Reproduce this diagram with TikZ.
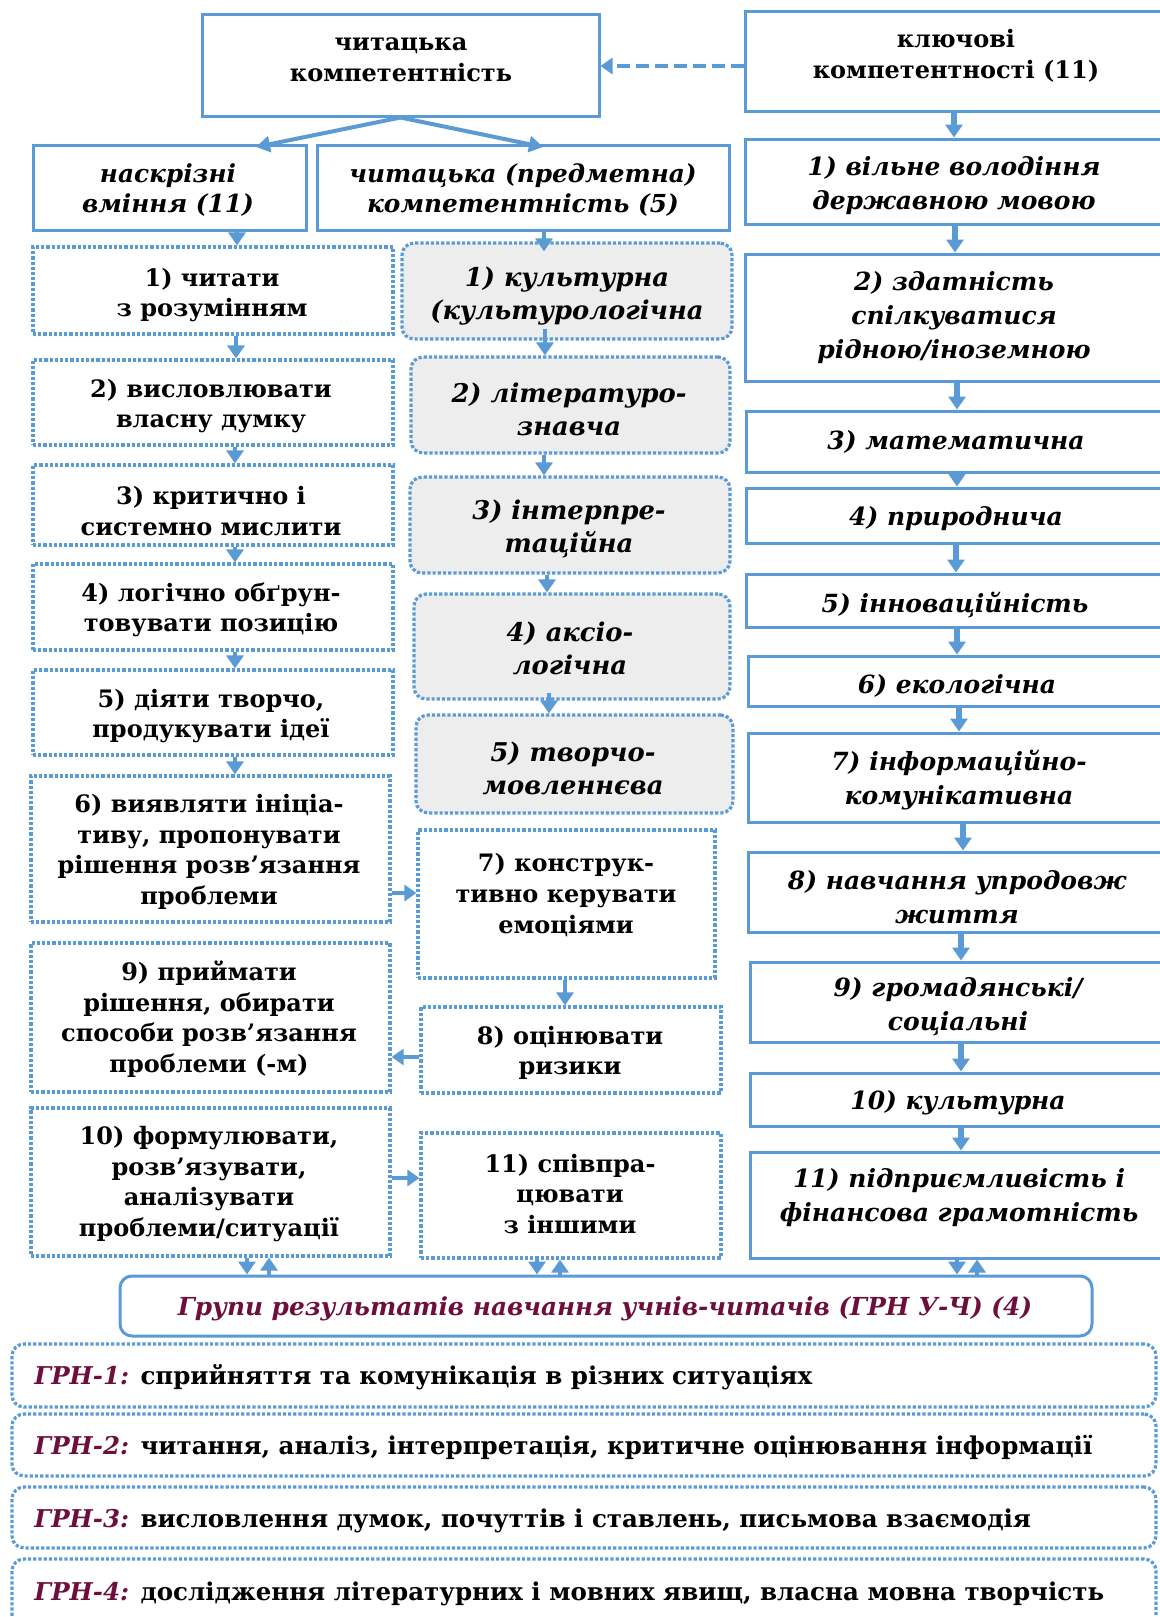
\documentclass[tikz,border=0pt]{standalone}
\usepackage{fontspec}
\setmainfont{DejaVu Serif}
\usetikzlibrary{arrows.meta,fit,calc}
\definecolor{bl}{RGB}{91,155,213}
\definecolor{gr}{RGB}{237,237,237}
\definecolor{mr}{RGB}{110,14,60}
\tikzset{
  sbox/.style={draw=bl, line width=1.5pt, inner sep=0pt},
  dbox/.style={draw=bl, line width=1.6pt, dash pattern=on 1.6pt off 1pt, inner sep=0pt},
  gbox/.style={dbox, fill=gr, rounded corners=6pt},
  rbox/.style={draw=bl, line width=1.5pt, inner sep=0pt, rounded corners=6pt},
  tb/.style={align=center, inner sep=0pt, yshift=-1.5pt, font=\fontsize{12}{15.3}\selectfont\bfseries},
  ti/.style={align=center, inner sep=0pt, yshift=-1.5pt, font=\fontsize{12.4}{15.3}\selectfont\bfseries\itshape},
  tg/.style={align=center, inner sep=0pt, yshift=-1.5pt, font=\fontsize{12.9}{16.5}\selectfont\bfseries\itshape},
  tk/.style={align=center, inner sep=0pt, yshift=-1.5pt, font=\fontsize{12.5}{17}\selectfont\bfseries\itshape},
  tgt/.style={align=center, inner sep=0pt, yshift=-1.5pt, text=mr, font=\fontsize{12.4}{15}\selectfont\bfseries\itshape},
  tgrn/.style={anchor=west, inner sep=0pt, yshift=-1.2pt, font=\fontsize{12.25}{15}\selectfont\bfseries},
  arr/.style={draw=bl, line width=2pt, -{Triangle[width=8.5pt,length=6.5pt]}},
  arrR/.style={draw=bl, line width=2.6pt, -{Triangle[width=8.5pt,length=6.5pt]}},
  arrH/.style={draw=bl, line width=1.6pt, -{Triangle[width=8pt,length=6pt]}},
  arrT/.style={draw=bl, line width=2pt, -{Triangle[width=8pt,length=7pt]}},
  arrD/.style={draw=bl, line width=2pt, dash pattern=on 6.5pt off 3pt, -{Triangle[width=8pt,length=6pt]}},
}
\begin{document}
\begin{tikzpicture}[x=0.5pt, y=-0.5pt]
\useasboundingbox (0,0) rectangle (1160,1617);
\clip (0,0) rectangle (1160,1617);
\fill[white] (0,0) rectangle (1160,1617);

% ---------- top row ----------
\node[sbox, fit={(202,14)(599,116)}] (A) {};
\node[tb] (At) at (401,57) {читацька\\компетентність};
\node[sbox, fit={(745,11)(1170,111)}] (K) {};
\node[tb] (Kt) at (956,53) {ключові\\компетентності (11)};

\node[sbox, fit={(33,145)(306,230)}] (N) {};
\node[ti] (Nt) at (168,187) {наскрізні\\вміння (11)};
\node[sbox, fit={(317,145)(729,230)}] (C) {};
\node[ti] (Ct) at (523,187) {читацька (предметна)\\компетентність (5)};

% ---------- left column ----------
\node[dbox, fit={(33,247)(393,334)}] (L1) {};
\node[tb] (L1t) at (212,292) {1) читати\\з розумінням};
\node[dbox, fit={(33,360)(393,445)}] (L2) {};
\node[tb] (L2t) at (211,403) {2) висловлювати\\власну думку};
\node[dbox, fit={(33,465)(393,545)}] (L3) {};
\node[tb] (L3t) at (211,508) {3) критично і\\системно мислити};
\node[dbox, fit={(33,564)(393,650)}] (L4) {};
\node[tb] (L4t) at (211,607) {4) логічно обґрун-\\товувати позицію};
\node[dbox, fit={(33,670)(393,755)}] (L5) {};
\node[tb] (L5t) at (211,713) {5) діяти творчо,\\продукувати ідеї};
\node[dbox, fit={(31,776)(390,922)}] (L6) {};
\node[tb] (L6t) at (209,849) {6) виявляти ініціа-\\тиву, пропонувати\\рішення розв’язання\\проблеми};
\node[dbox, fit={(31,943)(390,1092)}] (L9) {};
\node[tb] (L9t) at (209,1016) {9) приймати\\рішення, обирати\\способи розв’язання\\проблеми (-м)};
\node[dbox, fit={(31,1108)(390,1256)}] (L10) {};
\node[tb] (L10t) at (209,1181) {10) формулювати,\\розв’язувати,\\аналізувати\\проблеми/ситуації};

% ---------- middle column ----------
\node[gbox, fit={(402,243)(732,339)}] (M1) {};
\node[tg] (M1t) at (567,293) {1) культурна\\(культурологічна};
\node[gbox, fit={(411,357)(730,453)}] (M2) {};
\node[tg] (M2t) at (569,406) {2) літературо-\\знавча};
\node[gbox, fit={(410,477)(730,573)}] (M3) {};
\node[tg] (M3t) at (569,526) {3) інтерпре-\\таційна};
\node[gbox, fit={(414,594)(730,699)}] (M4) {};
\node[tg] (M4t) at (570,645) {4) аксіо-\\логічна};
\node[gbox, fit={(416,715)(733,813)}] (M5) {};
\node[tg] (M5t) at (573,765) {5) творчо-\\мовленнєва};
\node[dbox, fit={(418,830)(715,978)}] (M7) {};
\node[tb] (M7t) at (566,892) {7) конструк-\\тивно керувати\\емоціями};
\node[dbox, fit={(421,1007)(721,1093)}] (M8) {};
\node[tb] (M8t) at (570,1050) {8) оцінювати\\ризики};
\node[dbox, fit={(421,1133)(721,1258)}] (M11) {};
\node[tb] (M11t) at (570,1191) {11) співпра-\\цювати\\з іншими};

% ---------- right column ----------
\node[sbox, fit={(745,139)(1170,224)}] (K1) {};
\node[tk] (K1t) at (954,183) {1) вільне володіння\\державною мовою};
\node[sbox, fit={(745,254)(1170,381)}] (K2) {};
\node[tk] (K2t) at (954,315) {2) здатність\\спілкуватися\\рідною/іноземною};
\node[sbox, fit={(746,411)(1170,472)}] (K3) {};
\node[tk] (K3t) at (956,439) {3) математична};
\node[sbox, fit={(746,488)(1170,543)}] (K4) {};
\node[tk] (K4t) at (956,516) {4) природнича};
\node[sbox, fit={(746,574)(1170,627)}] (K5) {};
\node[tk] (K5t) at (955,602) {5) інноваційність};
\node[sbox, fit={(748,656)(1170,706)}] (K6) {};
\node[tk] (K6t) at (957,683) {6) екологічна};
\node[sbox, fit={(748,733)(1170,822)}] (K7) {};
\node[tk] (K7t) at (959,777) {7) інформаційно-\\комунікативна};
\node[sbox, fit={(748,852)(1170,932)}] (K8) {};
\node[tk] (K8t) at (957,894) {8) навчання упродовж\\життя};
\node[sbox, fit={(750,962)(1170,1042)}] (K9) {};
\node[tk] (K9t) at (958,1004) {9) громадянські/\\соціальні};
\node[sbox, fit={(750,1073)(1170,1126)}] (K10) {};
\node[tk] (K10t) at (958,1100) {10) культурна};
\node[sbox, fit={(750,1152)(1170,1258)}] (K11) {};
\node[tk] (K11t) at (959,1195) {11) підприємливість і\\фінансова грамотність};

% ---------- group box ----------
\node[rbox, fit={(120,1276)(1092,1336)}] (G) {};
\node[tgt] (Gt) at (605,1306) {Групи результатів навчання учнів-читачів (ГРН У-Ч) (4)};

\node[dbox, rounded corners=6pt, fit={(12,1344)(1156,1407)}] (R1) {};
\node[tgrn] (R1t) at (34,1375) {\textcolor{mr}{\itshape ГРН-1:} сприйняття та комунікація в різних ситуаціях};
\node[dbox, rounded corners=6pt, fit={(12,1414)(1156,1476)}] (R2) {};
\node[tgrn] (R2t) at (34,1445) {\textcolor{mr}{\itshape ГРН-2:} читання, аналіз, інтерпретація, критичне оцінювання інформації};
\node[dbox, rounded corners=6pt, fit={(12,1487)(1156,1548)}] (R3) {};
\node[tgrn] (R3t) at (34,1518) {\textcolor{mr}{\itshape ГРН-3:} висловлення думок, почуттів і ставлень, письмова взаємодія};
\node[dbox, rounded corners=6pt, fit={(12,1559)(1156,1640)}] (R4) {};
\node[tgrn] (R4t) at (34,1591) {\textcolor{mr}{\itshape ГРН-4:} дослідження літературних і мовних явищ, власна мовна творчість};

% ---------- connectors ----------
\draw[arrD] (K.west |- 0,66) -- (A.east |- 0,66);
\draw[arrT] (A.south) -- (256,147);
\draw[arrT] (A.south) -- (543,147);

\draw[arr] (N.south -| 237,0) -- (L1.north -| 237,0);
\draw[arr] (L1.south -| 236,0) -- (L2.north -| 236,0);
\draw[arr] (L2.south -| 235,0) -- (L3.north -| 235,0);
\draw[arr] (L3.south -| 235,0) -- (L4.north -| 235,0);
\draw[arr] (L4.south -| 235,0) -- (L5.north -| 235,0);
\draw[arr] (L5.south -| 235,0) -- (L6.north -| 235,0);

\draw[arr] (C.south -| 544,0) -- ($(M1.north -| 544,0)+(0,10)$);
\draw[arr] ($(M1.south -| 545,0)+(0,-12)$) -- (M2.north -| 545,0);
\draw[arr] (M2.south -| 544,0) -- (M3.north -| 544,0);
\draw[arr] (M3.south -| 547,0) -- (M4.north -| 547,0);
\draw[arr] ($(M4.south -| 549,0)+(0,-8)$) -- (M5.north -| 549,0);
\draw[arr] (M7.south -| 565,0) -- (M8.north -| 565,0);

\draw[arrH] (L6.east |- 0,893) -- (M7.west |- 0,893);
\draw[arrH] (M8.west |- 0,1057) -- (L9.east |- 0,1057);
\draw[arrH] (L10.east |- 0,1178) -- (M11.west |- 0,1178);

\draw[arrR] (K.south -| 954,0) -- (K1.north -| 954,0);
\draw[arrR] (K1.south -| 955,0) -- (K2.north -| 955,0);
\draw[arrR] (K2.south -| 957,0) -- (K3.north -| 957,0);
\draw[arrR] (K3.south -| 957,0) -- (K4.north -| 957,0);
\draw[arrR] (K4.south -| 956,0) -- (K5.north -| 956,0);
\draw[arrR] (K5.south -| 957,0) -- (K6.north -| 957,0);
\draw[arrR] (K6.south -| 959,0) -- (K7.north -| 959,0);
\draw[arrR] (K7.south -| 963,0) -- (K8.north -| 963,0);
\draw[arrR] (K8.south -| 961,0) -- (K9.north -| 961,0);
\draw[arrR] (K9.south -| 961,0) -- (K10.north -| 961,0);
\draw[arrR] (K10.south -| 961,0) -- (K11.north -| 961,0);

\draw[arr] (L10.south -| 247,0) -- (G.north -| 247,0);
\draw[arr] (G.north -| 269,0) -- (L10.south -| 269,0);
\draw[arr] (M11.south -| 537,0) -- (G.north -| 537,0);
\draw[arr] (G.north -| 560,0) -- (M11.south -| 560,0);
\draw[arr] (K11.south -| 957,0) -- (G.north -| 957,0);
\draw[arr] (G.north -| 977,0) -- (K11.south -| 977,0);
\end{tikzpicture}
\end{document}
